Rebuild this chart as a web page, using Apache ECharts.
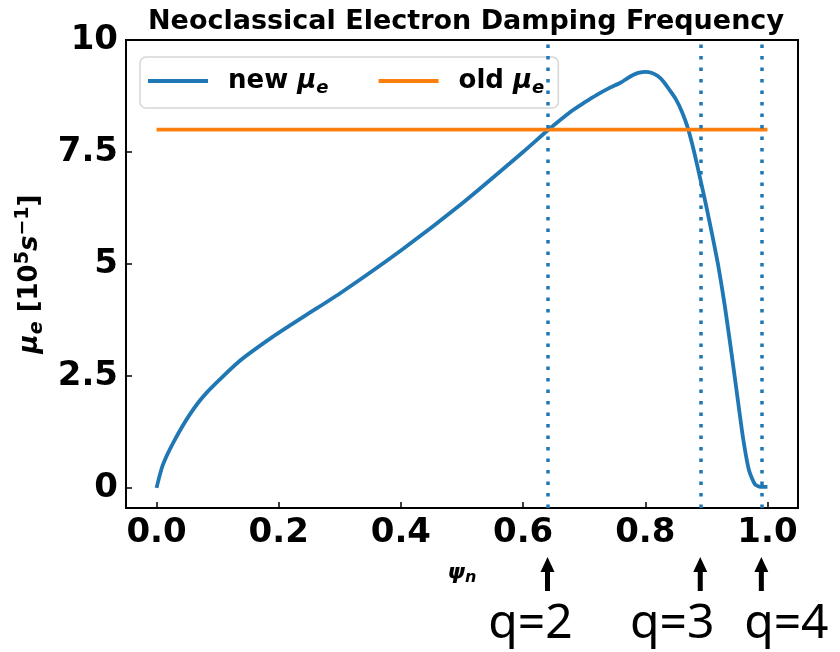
<!DOCTYPE html>
<html>
<head>
<meta charset="utf-8">
<script src="https://cdn.jsdelivr.net/npm/echarts@6/dist/echarts.min.js"></script>
<style>
  html, body { margin: 0; padding: 0; background: #fff; }
  #chart { width: 840px; height: 652px; }
</style>
</head>
<body>
<div id="chart"></div>
<script>
// psi_n grid and new damping frequency
const psi = [0, 0.01, 0.027, 0.054, 0.081, 0.135, 0.19, 0.244, 0.3, 0.4, 0.5, 0.6, 0.64, 0.68,
  0.7, 0.72, 0.74, 0.76, 0.77, 0.78, 0.79, 0.8, 0.81, 0.82, 0.83, 0.84, 0.85, 0.86, 0.87,
  0.88, 0.89, 0.9, 0.91, 0.92, 0.93, 0.94, 0.95, 0.96, 0.97, 0.98, 0.99, 1.0]
const muNew = [0, 0.5, 1.0, 1.63, 2.11, 2.82, 3.37, 3.85, 4.34, 5.3, 6.35, 7.5, 7.98, 8.42,
  8.6, 8.77, 8.92, 9.05, 9.14, 9.22, 9.27, 9.29, 9.27, 9.2, 9.07, 8.88, 8.68, 8.4, 8.02,
  7.5, 6.9, 6.28, 5.62, 4.92, 4.08, 3.12, 2.12, 1.12, 0.38, 0.07, 0.02, 0.02]
// old constant value
const psiOld = [0, 1.0]
const muOld = [8, 8]
// rational surfaces
const surfacePsi = [0.64, 0.89, 0.99]
const surfaceLabels = ['q=2', 'q=3', 'q=4']
const surfaceLabelShift = [-17, -28, 25]
// ticks
const xTicks = [0, 0.2, 0.4, 0.6, 0.8, 1.0]
const yTicks = [0, 2.5, 5, 7.5, 10]

const FONT = 'DejaVu Sans'
const chart = echarts.init(document.getElementById('chart'))

const option = {
  animation: false,
  title: {
    text: 'Neoclassical Electron Damping Frequency',
    left: 461,
    top: 3,
    textAlign: 'center',
    textStyle: { fontFamily: FONT, fontWeight: 'bold', fontSize: 27, color: '#000' }
  },
  legend: {
    left: 140,
    top: 57,
    orient: 'horizontal',
    icon: 'rect',
    itemWidth: 60,
    itemHeight: 4,
    itemGap: 50,
    padding: [11, 14, 11, 8],
    borderColor: '#d6d6d6',
    borderWidth: 1.5,
    borderRadius: 6,
    backgroundColor: 'rgba(255,255,255,0.8)',
    data: ['new', 'old'],
    formatter: n => `{b|${n} }{i|μ}{s|e}`,
    textStyle: {
      rich: {
        b: { fontFamily: FONT, fontWeight: 'bold', fontSize: 26, color: '#000', padding: [0, 0, 0, 15] },
        i: { fontFamily: FONT, fontWeight: 'bold', fontStyle: 'italic', fontSize: 26, color: '#000' },
        s: { fontFamily: FONT, fontWeight: 'bold', fontStyle: 'italic', fontSize: 18, color: '#000', padding: [14, 0, 0, 0] }
      }
    }
  },
  grid: {
    left: 126, right: 42, top: 40, bottom: 144,
    show: true, borderColor: '#000', borderWidth: 2, backgroundColor: 'transparent'
  },
  xAxis: {
    type: 'value',
    min: -0.05,
    max: 1.05,
    splitLine: { show: false },
    axisLine: { show: false, onZero: false },
    axisTick: { inside: true, length: 6, customValues: xTicks, lineStyle: { color: '#000', width: 1.5 } },
    axisLabel: {
      customValues: xTicks,
      formatter: v => v.toFixed(1),
      fontFamily: FONT, fontWeight: 'bold', fontSize: 34, color: '#000', margin: 8
    },
    name: '{i|ψ}{s|n}',
    nameLocation: 'middle',
    nameGap: 52,
    nameTextStyle: {
      rich: {
        i: { fontFamily: FONT, fontWeight: 'bold', fontStyle: 'italic', fontSize: 22, color: '#000' },
        s: { fontFamily: FONT, fontWeight: 'bold', fontStyle: 'italic', fontSize: 16, color: '#000', padding: [10, 0, 0, 0] }
      }
    }
  },
  yAxis: {
    type: 'value',
    min: -0.45,
    max: 10,
    splitLine: { show: false },
    axisLine: { show: false, onZero: false },
    axisTick: { inside: true, length: 6, customValues: yTicks, lineStyle: { color: '#000', width: 1.5 } },
    axisLabel: {
      customValues: yTicks,
      formatter: v => String(v),
      fontFamily: FONT, fontWeight: 'bold', fontSize: 34, color: '#000', margin: 8
    },
    name: '{i|μ}{s|e}{b| [10}{p|5}{i|s}{p|−1}{b|]}',
    nameLocation: 'middle',
    nameRotate: 90,
    nameGap: 76,
    nameTextStyle: {
      rich: {
        b: { fontFamily: FONT, fontWeight: 'bold', fontSize: 26, color: '#000' },
        i: { fontFamily: FONT, fontWeight: 'bold', fontStyle: 'italic', fontSize: 26, color: '#000' },
        s: { fontFamily: FONT, fontWeight: 'bold', fontStyle: 'italic', fontSize: 19, color: '#000', padding: [14, 0, 0, 0] },
        p: { fontFamily: FONT, fontWeight: 'bold', fontSize: 19, color: '#000', padding: [0, 0, 14, 0] }
      }
    }
  },
  series: [
    {
      name: 'new',
      type: 'line',
      data: psi.map((x, i) => [x, muNew[i]]),
      showSymbol: false,
      smooth: 0.2,
      lineStyle: { color: '#1f77b4', width: 3.8 },
      itemStyle: { color: '#1f77b4' },
      z: 3,
      markLine: {
        silent: true,
        symbol: 'none',
        label: { show: false },
        lineStyle: { color: '#1f77b4', width: 3.5, type: [3.5, 8] },
        data: surfacePsi.map(v => ({ xAxis: v }))
      }
    },
    {
      name: 'old',
      type: 'line',
      data: psiOld.map((x, i) => [x, muOld[i]]),
      showSymbol: false,
      lineStyle: { color: '#ff7f0e', width: 3.8 },
      itemStyle: { color: '#ff7f0e' },
      z: 3
    }
  ]
}

chart.setOption(option)

// arrows + q labels under the axis, placed through the x scale
const graphics = []
surfacePsi.forEach((v, i) => {
  const px = chart.convertToPixel({ xAxisIndex: 0 }, v)
  graphics.push({
    type: 'rect',
    shape: { x: px - 2.5, y: 568, width: 5, height: 23 },
    style: { fill: '#000' }
  })
  graphics.push({
    type: 'polygon',
    shape: { points: [[px - 7, 572], [px + 7, 572], [px, 557]] },
    style: { fill: '#000' }
  })
  graphics.push({
    type: 'text',
    x: px + surfaceLabelShift[i],
    y: 624,
    style: {
      text: surfaceLabels[i],
      fontFamily: 'Noto Sans',
      fontSize: 48,
      fill: '#000',
      align: 'center',
      verticalAlign: 'middle'
    }
  })
})
chart.setOption({ graphic: graphics })
</script>
</body>
</html>
